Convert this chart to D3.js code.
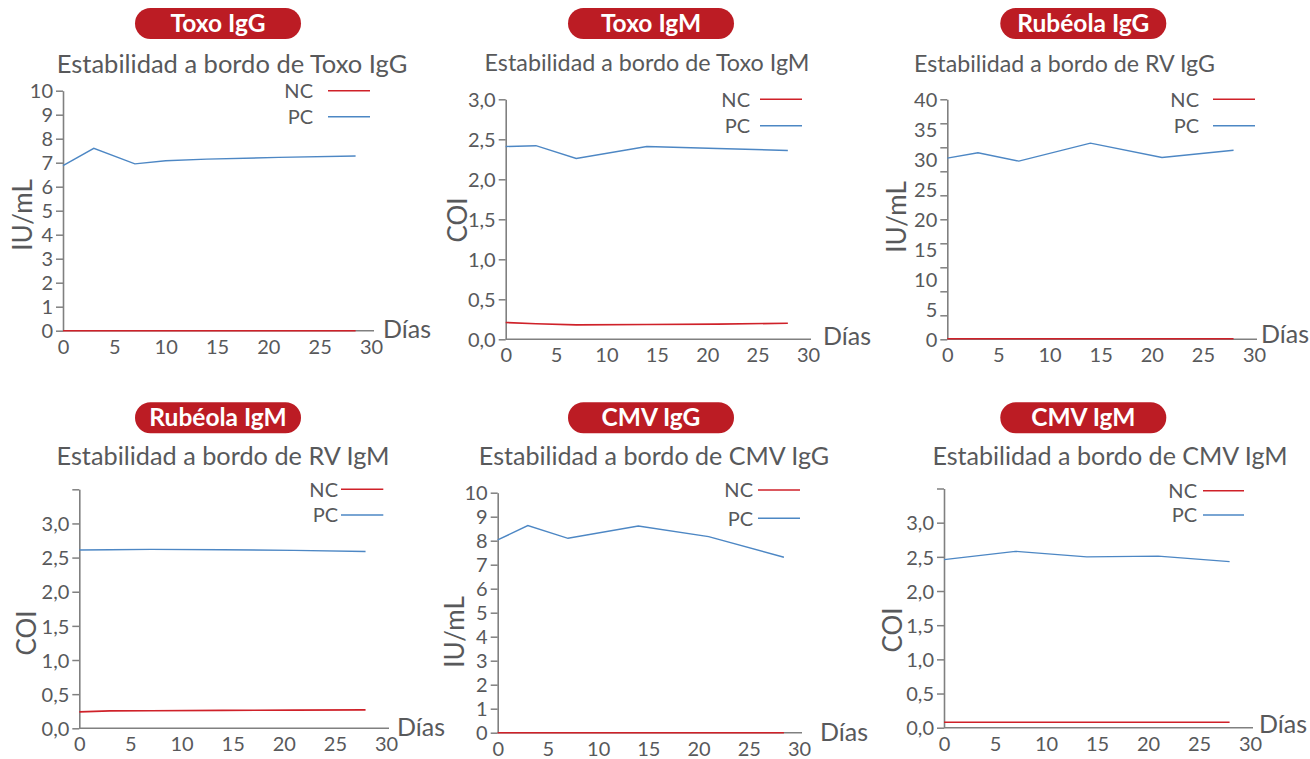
<!DOCTYPE html>
<html>
<head>
<meta charset="utf-8">
<script src="https://cdn.jsdelivr.net/npm/d3@7"></script>
<style>
  html, body { margin: 0; padding: 0; background: #ffffff; }
  svg { display: block; font-family: Lato, "Open Sans", sans-serif; }
</style>
</head>
<body>
<svg id="chart" width="1310" height="759"></svg>
<script>
// ---------------- DATA ----------------
const badgeLabels = ["Toxo IgG", "Toxo IgM", "Rubéola IgG", "Rubéola IgM", "CMV IgG", "CMV IgM"];
const chartTitles = [
  "Estabilidad a bordo de Toxo IgG",
  "Estabilidad a bordo de Toxo IgM",
  "Estabilidad a bordo de RV IgG",
  "Estabilidad a bordo de RV IgM",
  "Estabilidad a bordo de CMV IgG",
  "Estabilidad a bordo de CMV IgM"
];
const yAxisTitles = ["IU/mL", "COI", "IU/mL", "COI", "IU/mL", "COI"];
const xAxisTitle = "Días";
const seriesNames = ["NC", "PC"];
const xTickValues = [0, 5, 10, 15, 20, 25, 30];

// y tick labels / tick marks
const iuTicks10 = [0, 1, 2, 3, 4, 5, 6, 7, 8, 9, 10];
const coiTicks30 = [0, 0.5, 1, 1.5, 2, 2.5, 3];
const coiTicks35 = [0, 0.5, 1, 1.5, 2, 2.5, 3, 3.5];
const rvIgGLabels = [0, 5, 10, 15, 20, 25, 30, 35, 40];
const rvIgGTickMarks = [0, 4, 8, 12, 16, 20, 24, 28, 32, 36, 40];

// Toxo IgG
const toxoIgGDays = [0, 3, 7, 10, 14, 21, 28.5];
const toxoIgGPC = [6.88, 7.6, 6.95, 7.08, 7.15, 7.22, 7.28];
const toxoIgGNC = [0.0, 0.0, 0.0, 0.0, 0.0, 0.0, 0.0];
// Toxo IgM
const toxoIgMDays = [0, 3, 7, 14, 21, 28];
const toxoIgMPC = [2.41, 2.42, 2.26, 2.41, 2.385, 2.36];
const toxoIgMNC = [0.21, 0.195, 0.18, 0.185, 0.19, 0.2];
// Rubéola IgG
const rvIgGDays = [0, 3, 7, 14, 21, 28];
const rvIgGPC = [30.2, 31.1, 29.7, 32.7, 30.3, 31.5];
const rvIgGNC = [0.1, 0.1, 0.1, 0.1, 0.1, 0.1];
// Rubéola IgM
const rvIgMDays = [0, 3, 7, 14, 21, 28];
const rvIgMPC = [2.61, 2.615, 2.62, 2.615, 2.605, 2.59];
const rvIgMNC = [0.24, 0.255, 0.258, 0.262, 0.266, 0.27];
// CMV IgG
const cmvIgGDays = [0, 3, 7, 14, 21, 28.5];
const cmvIgGPC = [8.03, 8.63, 8.1, 8.61, 8.17, 7.31];
const cmvIgGNC = [0.0, 0.0, 0.0, 0.0, 0.0, 0.0];
// CMV IgM
const cmvIgMDays = [0, 7, 14, 21, 28];
const cmvIgMPC = [2.46, 2.58, 2.5, 2.51, 2.43];
const cmvIgMNC = [0.08, 0.08, 0.08, 0.08, 0.08];

// ---------------- LAYOUT / STYLE ----------------
const RED = "#cf2129", BLUE = "#4d87c4", BADGE = "#bc1c24", TEXT = "#58595b", AXIS = "#808080";
const comma = d3.formatLocale({ decimal: ",", thousands: ".", grouping: [3], currency: ["", ""] });
const fmtCOI = comma.format(".1f");
const fmtInt = d3.format("d");

const panels = [
  { days: toxoIgGDays, pc: toxoIgGPC, nc: toxoIgGNC, yMax: 10, labels: iuTicks10, marks: iuTicks10, fmt: fmtInt,
    x0: 63, x30: 371, yTop: 90.7, yBot: 330.7, badgeCx: 218, badgeY: 8, titleCx: 232, titleY: 73, titleSize: 25.5,
    legX: 313, legY: [90.7, 116.7], legL: [328, 370], yTitle: [23, 215], dias: [383, 338] },
  { days: toxoIgMDays, pc: toxoIgMPC, nc: toxoIgMNC, yMax: 3, labels: coiTicks30, marks: coiTicks30, fmt: fmtCOI,
    x0: 505.7, x30: 808, yTop: 99.3, yBot: 339.3, badgeCx: 651, badgeY: 8, titleCx: 647, titleY: 71, titleSize: 23.3,
    legX: 750, legY: [99.3, 125.7], legL: [760, 802], yTitle: [458, 220], dias: [823, 345] },
  { days: rvIgGDays, pc: rvIgGPC, nc: rvIgGNC, yMax: 40, labels: rvIgGLabels, marks: rvIgGTickMarks, fmt: fmtInt,
    x0: 947.3, x30: 1254, yTop: 99.3, yBot: 339.3, badgeCx: 1083.3, badgeY: 8, titleCx: 1064.5, titleY: 72, titleSize: 23.2,
    legX: 1199, legY: [99.3, 125.7], legL: [1213, 1255], yTitle: [897, 217], dias: [1261, 343] },
  { days: rvIgMDays, pc: rvIgMPC, nc: rvIgMNC, yMax: 3.5, labels: coiTicks30, marks: coiTicks35, fmt: fmtCOI,
    x0: 79.3, x30: 386, yTop: 489.3, yBot: 728.3, badgeCx: 218, badgeY: 402.3, titleCx: 223, titleY: 465, titleSize: 25.3,
    legX: 338, legY: [489.3, 515], legL: [341, 383.3], yTitle: [27, 633], dias: [397, 736] },
  { days: cmvIgGDays, pc: cmvIgGPC, nc: cmvIgGNC, yMax: 10, labels: iuTicks10, marks: iuTicks10, fmt: fmtInt,
    x0: 497.7, x30: 799, yTop: 492.7, yBot: 732.7, badgeCx: 651, badgeY: 402.3, titleCx: 654, titleY: 465, titleSize: 25.1,
    legX: 753, legY: [490, 518.3], legL: [758, 800], yTitle: [455, 632], dias: [820, 741] },
  { days: cmvIgMDays, pc: cmvIgMPC, nc: cmvIgMNC, yMax: 3.5, labels: coiTicks30, marks: coiTicks35, fmt: fmtCOI,
    x0: 944, x30: 1250, yTop: 488.5, yBot: 727.7, badgeCx: 1083.3, badgeY: 402.3, titleCx: 1110, titleY: 465, titleSize: 25.1,
    legX: 1197, legY: [490.7, 515], legL: [1203, 1244], yTitle: [893, 630], dias: [1259, 733] }
];

const svg = d3.select("#chart");

panels.forEach((p, i) => {
  const g = svg.append("g");
  const x = d3.scaleLinear().domain([0, 30]).range([p.x0, p.x30]);
  const y = d3.scaleLinear().domain([0, p.yMax]).range([p.yBot, p.yTop]);

  // Badge
  const bw = 166, bh = 31;
  g.append("rect").attr("x", p.badgeCx - bw / 2).attr("y", p.badgeY).attr("width", bw).attr("height", bh)
    .attr("rx", bh / 2).attr("ry", bh / 2).attr("fill", BADGE);
  g.append("text").attr("x", p.badgeCx).attr("y", p.badgeY + 24).attr("text-anchor", "middle")
    .attr("fill", "#fff").attr("font-weight", 700).attr("font-size", 24.5).text(badgeLabels[i]);

  // Title
  g.append("text").attr("x", p.titleCx).attr("y", p.titleY).attr("text-anchor", "middle")
    .attr("fill", TEXT).attr("font-size", p.titleSize).text(chartTitles[i]);

  // Y tick marks
  const yMarks = g.append("g").attr("transform", `translate(${p.x0},0)`)
    .call(d3.axisLeft(y).tickValues(p.marks).tickSize(7).tickSizeOuter(0).tickFormat(""));
  yMarks.selectAll("line").attr("stroke", AXIS).attr("stroke-width", 1.5);
  yMarks.select(".domain").attr("stroke", AXIS).attr("stroke-width", 1.6);

  // Y tick labels
  const yLab = g.append("g").attr("transform", `translate(${p.x0},0)`)
    .call(d3.axisLeft(y).tickValues(p.labels).tickSize(0).tickPadding(10).tickFormat(p.fmt));
  yLab.select(".domain").remove();
  yLab.selectAll("text").attr("fill", TEXT).attr("font-size", 20).attr("font-family", "Lato, sans-serif")
    .attr("dy", "0.36em");

  // X axis
  const xAx = g.append("g").attr("transform", `translate(0,${p.yBot})`)
    .call(d3.axisBottom(x).tickValues(xTickValues).tickSize(0).tickPadding(9).tickSizeOuter(0).tickFormat(fmtInt));
  xAx.select(".domain").attr("stroke", AXIS).attr("stroke-width", 1.6)
    .attr("d", `M${p.x0},0H${p.x30 + 3}`);
  xAx.selectAll("text").attr("fill", TEXT).attr("font-size", 20).attr("font-family", "Lato, sans-serif")
    .attr("dy", "0.71em");

  // Axis titles
  g.append("text").attr("transform", `translate(${p.yTitle[0]},${p.yTitle[1]}) rotate(-90)`)
    .attr("text-anchor", "middle").attr("dy", "0.36em").attr("fill", TEXT).attr("font-size", 26)
    .text(yAxisTitles[i]);
  g.append("text").attr("x", p.dias[0]).attr("y", p.dias[1]).attr("fill", TEXT).attr("font-size", 25)
    .text(xAxisTitle);

  // Lines
  const line = d3.line().x(d => x(d[0])).y(d => y(d[1]));
  g.append("path").datum(d3.zip(p.days, p.nc)).attr("d", line).attr("fill", "none")
    .attr("stroke", RED).attr("stroke-width", 1.6);
  g.append("path").datum(d3.zip(p.days, p.pc)).attr("d", line).attr("fill", "none")
    .attr("stroke", BLUE).attr("stroke-width", 1.4);

  // Legend
  [RED, BLUE].forEach((c, k) => {
    g.append("text").attr("x", p.legX).attr("y", p.legY[k]).attr("dy", "0.36em").attr("text-anchor", "end")
      .attr("fill", TEXT).attr("font-size", 20).text(seriesNames[k]);
    g.append("line").attr("x1", p.legL[0]).attr("x2", p.legL[1]).attr("y1", p.legY[k]).attr("y2", p.legY[k])
      .attr("stroke", c).attr("stroke-width", 1.5);
  });
});
</script>
</body>
</html>
